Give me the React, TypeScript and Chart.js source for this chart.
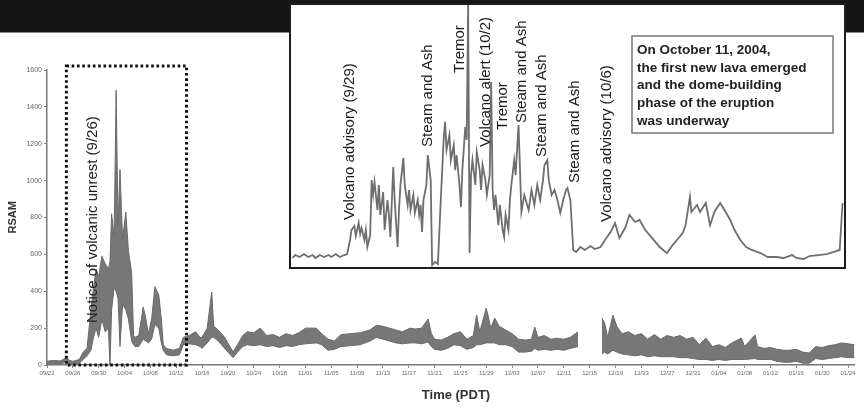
import React, { useEffect, useRef } from "react";
import { Chart, registerables } from "chart.js";

Chart.register(...registerables);

const FONT = '"Liberation Sans", Arial, Helvetica, sans-serif';

// ---------- main chart data (days since 09/22) ----------
const tickLabels = ["09/22","09/26","09/30","10/04","10/08","10/12","10/16","10/20","10/24","10/28","11/01","11/05","11/09","11/13","11/17","11/21","11/25","11/29","12/03","12/07","12/11","12/15","12/19","12/23","12/27","12/31","01/04","01/08","01/12","01/16","01/20","01/24"];
const tickDays = tickLabels.map((_, i) => i * 4);
const yTicks = [0, 200, 400, 600, 800, 1000, 1200, 1400, 1600];

const dayPts = [
  0,1,2,2.5,3,3.5,4,5,5.6,6.2,
  6.8,7.2,7.6,8,8.5,9,9.5,9.75,10,10.4,
  10.7,11,11.3,11.7,12.2,12.6,13.1,13.4,13.6,14.2,
  14.9,15.3,15.7,16.2,16.7,17.3,17.7,18,18.5,19.5,
  20.5,21.1,22,23,23.7,24,24.8,25.5,25.8,26.5,
  27.5,28,28.8,29.5,30.3,31,32,33,34,35,
  36,37,38,39,40,41.7,42.5,43.5,44.5,45.5,
  47,48.5,50,51,52,53,54,55,56.2,57,
  58,59,59.5,60,61,62,63,64,65,66,
  66.5,67,68,68.7,69.3,70,71,72,73,74,
  75,75.5,76,77,78,79,80,81,82.2,84,
  85.9,86.3,86.8,87.6,88.2,89,90,91,92,93,
  94,95,96,97,98,99,100,101,102,103,
  104,105,106,107.5,108,109.6,110,111,112,113,
  114,115,116,117,118,119,120,121,122,123,
  124,125,
];
const rsamHigh = [
  20,25,22,30,40,25,20,30,70,90,
  300,420,520,480,590,550,520,560,820,700,
  1490,760,1060,680,830,620,500,160,150,160,
  315,250,170,250,425,380,250,110,90,80,
  90,150,160,180,150,150,200,396,210,190,
  150,120,70,110,160,180,175,200,160,165,
  150,170,160,175,200,200,170,140,130,165,
  170,175,190,215,210,200,190,180,200,195,
  200,250,170,140,135,150,170,180,140,160,
  271,180,309,200,255,210,190,170,140,135,
  140,206,150,160,140,145,140,150,180,null,
  255,230,150,271,210,170,180,160,170,140,
  165,140,160,150,160,140,150,110,146,100,
  110,95,120,146,100,163,100,90,95,85,
  80,80,85,70,65,100,95,105,110,120,
  115,110,
];
const rsamLow = [
  5,8,6,10,18,8,5,10,30,50,
  80,150,200,150,250,180,200,0,300,420,
  400,360,100,330,300,250,130,110,100,100,
  140,130,120,140,220,200,120,80,55,50,
  55,110,115,110,100,90,120,150,150,130,
  90,70,40,70,100,110,105,110,100,105,
  95,105,100,110,115,120,110,80,85,100,
  105,110,130,150,140,130,120,115,120,120,
  115,125,100,85,80,90,110,105,85,95,
  110,110,120,120,120,110,110,100,70,70,
  75,90,80,85,80,85,80,90,100,null,
  60,70,60,80,70,60,55,50,55,45,
  50,45,45,45,40,40,35,30,30,25,
  30,25,30,30,30,35,30,30,30,20,
  15,15,20,10,10,35,30,35,40,45,
  40,40,
];

// dotted "notice" box (days) and its label
const unrestBoxDays = [3, 21.6];
const unrestBoxTop = 1622;
const unrestLabel = "Notice of volcanic unrest (9/26)";
const unrestLabelDay = 7.1;
const unrestLabelBase = 228;

// ---------- inset data (hours since start of inset window) ----------
const insetHours = [
  1,3,6,9,12,15,17,20,23,26,
  28,31,34,37,39,41,42,44,45,47,
  48,49,51,52,53,55,56,57,58,60,
  61,62,64,65,67,68,69,71,72,74,
  75,76,78,79,81,82,83,85,86,88,
  89,90,91,92,94,95,97,98,100,102,
  104,106,107,108,110,111,113,114,115,117,
  118,119,121,122,123,124,125,126,128,129,
  131,132,133,135,136,138,139,140,141,142,
  144,145,147,148,149,151,152,153,155,156,
  157,158,160,162,165,167,169,171,173,175,
  176,178,179,181,183,185,187,189,191,192,
  194,196,198,201,204,208,211,215,218,222,
  225,228,232,235,239,242,246,249,253,256,
  261,265,268,272,274,277,278,282,284,288,
  291,294,298,301,305,308,312,316,320,326,
  331,337,342,348,351,356,360,366,372,377,
  381,383,
];
const insetValues = [
  55,73,61,79,61,73,55,73,61,73,
  61,79,61,73,79,165,226,250,189,269,
  202,238,165,226,122,195,531,440,519,348,
  501,318,458,226,409,318,183,611,409,122,
  348,501,666,501,379,470,348,440,330,409,
  318,379,214,409,501,684,531,12,31,18,
  409,776,886,715,806,653,745,592,684,501,
  366,592,855,776,1600,85,562,653,501,702,
  592,470,623,531,440,562,1130,470,348,440,
  256,379,226,183,318,226,409,501,653,562,
  715,867,336,440,348,470,379,501,409,531,
  623,653,531,440,470,409,330,409,470,482,
  409,104,92,122,104,128,110,122,165,214,
  269,177,238,318,275,287,226,195,153,122,
  85,134,165,208,256,427,336,379,336,391,
  256,336,391,348,287,226,165,122,104,85,
  61,61,55,73,55,49,67,73,79,92,
  104,391,
];

const eventLabels = [
  "Volcano advisory (9/29)",
  "Steam and Ash",
  "Tremor",
  "Volcano alert (10/2)",
  "Tremor",
  "Steam and Ash",
  "Steam and Ash",
  "Steam and Ash",
  "Volcano advisory (10/6)",
];
const eventHours = [41, 95, 117, 135, 147, 160, 174, 197, 219];
const eventBaseValues = [287, 733, 1185, 733, 837, 879, 672, 513, 275];

const noteLines = [
  "On October 11, 2004,",
  "the first new lava emerged",
  "and the dome-building",
  "phase of the eruption",
  "was underway",
];

function vText(ctx: CanvasRenderingContext2D, text: string, cx: number, bottomY: number, font: string, color: string) {
  ctx.save();
  ctx.translate(cx, bottomY);
  ctx.rotate(-Math.PI / 2);
  ctx.font = font;
  ctx.fillStyle = color;
  ctx.textAlign = "left";
  ctx.textBaseline = "middle";
  ctx.fillText(text, 0, 0);
  ctx.restore();
}

const mainDecor = {
  id: "mainDecor",
  afterDraw(chart: any) {
    const { ctx, scales } = chart;
    const x = scales.x, y = scales.y;
    ctx.save();
    // dotted rectangle
    const l = x.getPixelForValue(unrestBoxDays[0]);
    const r = x.getPixelForValue(unrestBoxDays[1]);
    const t = y.getPixelForValue(unrestBoxTop);
    const b = y.getPixelForValue(0);
    ctx.strokeStyle = "#111";
    ctx.lineWidth = 3;
    ctx.setLineDash([2.6, 2.7]);
    ctx.strokeRect(l, t, r - l, b - t);
    ctx.setLineDash([]);
    // label
    vText(ctx, unrestLabel, x.getPixelForValue(unrestLabelDay), y.getPixelForValue(unrestLabelBase), `15px ${FONT}`, "#222");
    // axis titles
    const ca = chart.chartArea;
    vText(ctx, "RSAM", 13, (ca.top + ca.bottom) / 2 + 16, `bold 11px ${FONT}`, "#333");
    ctx.font = `bold 13px ${FONT}`;
    ctx.fillStyle = "#333";
    ctx.textAlign = "center";
    ctx.textBaseline = "middle";
    ctx.fillText("Time (PDT)", 456, 395);
    ctx.restore();
  },
};

const insetDecor = {
  id: "insetDecor",
  afterDraw(chart: any) {
    const { ctx, scales } = chart;
    const x = scales.x, y = scales.y;
    ctx.save();
    eventLabels.forEach((lab, i) => {
      vText(ctx, lab, x.getPixelForValue(eventHours[i]), y.getPixelForValue(eventBaseValues[i]), `15px ${FONT}`, "#1a1a1a");
    });
    // note box
    const bx = 341, by = 31, bw = 201, bh = 97;
    ctx.strokeStyle = "#777";
    ctx.lineWidth = 1.5;
    ctx.strokeRect(bx, by, bw, bh);
    ctx.font = `bold 13.5px ${FONT}`;
    ctx.fillStyle = "#222";
    ctx.textAlign = "left";
    ctx.textBaseline = "middle";
    noteLines.forEach((ln, i) => ctx.fillText(ln, bx + 5, by + 14 + i * 17.8));
    ctx.restore();
  },
};

export default function App() {
  const mainRef = useRef<HTMLCanvasElement>(null);
  const insetRef = useRef<HTMLCanvasElement>(null);

  useEffect(() => {
    const gridOpts = { display: true, drawOnChartArea: false, drawTicks: true, tickLength: 3, color: "#888", lineWidth: 1 };
    const main = new Chart(mainRef.current as HTMLCanvasElement, {
      type: "line",
      data: {
        datasets: [
          {
            data: dayPts.map((d, i) => ({ x: d, y: rsamHigh[i] })),
            borderColor: "#6a6a6a",
            borderWidth: 1,
            pointRadius: 0,
            fill: false,
            spanGaps: false,
          },
          {
            data: dayPts.map((d, i) => ({ x: d, y: rsamLow[i] })),
            borderColor: "#6a6a6a",
            borderWidth: 1,
            backgroundColor: "#777777",
            pointRadius: 0,
            fill: "-1",
            spanGaps: false,
          },
        ],
      },
      options: {
        responsive: false,
        animation: false,
        devicePixelRatio: 1,
        layout: { padding: { left: 0, right: 9.5, top: 70, bottom: 0 } },
        plugins: { legend: { display: false }, tooltip: { enabled: false } },
        elements: { line: { tension: 0 }, point: { radius: 0 } },
        scales: {
          x: {
            type: "linear",
            min: 0,
            max: 125,
            afterBuildTicks: (s: any) => { s.ticks = tickDays.map((v) => ({ value: v })); },
            afterFit: (s: any) => { s.height = 42; },
            ticks: {
              autoSkip: false,
              maxRotation: 0,
              minRotation: 0,
              padding: 2,
              font: { family: FONT, size: 6 },
              color: "#666",
              callback: (_v: any, i: number) => tickLabels[i] ?? "",
            },
            grid: gridOpts,
            border: { display: true, color: "#777", width: 1.5 },
          },
          y: {
            min: 0,
            max: 1600,
            afterBuildTicks: (s: any) => { s.ticks = yTicks.map((v) => ({ value: v })); },
            afterFit: (s: any) => { s.width = 47; },
            ticks: {
              font: { family: FONT, size: 7 },
              color: "#666",
              padding: 2,
              callback: (v: any) => String(v),
            },
            grid: gridOpts,
            border: { display: true, color: "#777", width: 1.5 },
          },
        },
      } as any,
      plugins: [mainDecor],
    });

    const inset = new Chart(insetRef.current as HTMLCanvasElement, {
      type: "line",
      data: {
        datasets: [
          {
            data: insetHours.map((h, i) => ({ x: h, y: insetValues[i] })),
            borderColor: "#6e6e6e",
            borderWidth: 1.8,
            pointRadius: 0,
            fill: false,
          },
        ],
      },
      options: {
        responsive: false,
        animation: false,
        devicePixelRatio: 1,
        layout: { padding: 0 },
        plugins: { legend: { display: false }, tooltip: { enabled: false } },
        elements: { line: { tension: 0 }, point: { radius: 0 } },
        scales: {
          x: { type: "linear", min: 0, max: 384, display: false },
          y: { min: 0, max: 1600, display: false },
        },
      } as any,
      plugins: [insetDecor],
    });

    return () => {
      main.destroy();
      inset.destroy();
    };
  }, []);

  return (
    <div style={{ position: "absolute", left: 0, top: 0, width: 864, height: 407, background: "#fff", overflow: "hidden" }}>
      <canvas ref={mainRef} width={864} height={407} style={{ position: "absolute", left: 0, top: 0, width: 864, height: 407 }} />
      <div style={{ position: "absolute", left: 0, top: 0, width: 864, height: 32, background: "#161616", borderBottom: "1px solid #888" }} />
      <div
        style={{
          position: "absolute",
          left: 289,
          top: 3,
          width: 557,
          height: 266,
          boxSizing: "border-box",
          border: "2px solid #1e1e1e",
          background: "#fff",
        }}
      >
        <canvas ref={insetRef} width={553} height={262} style={{ display: "block", width: 553, height: 262 }} />
      </div>
    </div>
  );
}
